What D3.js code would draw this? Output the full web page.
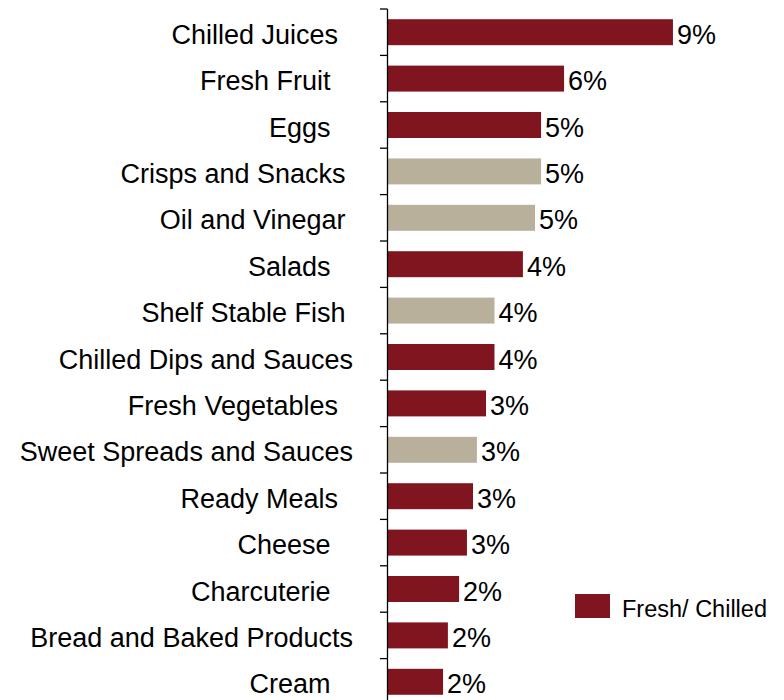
<!DOCTYPE html>
<html>
<head>
<meta charset="utf-8">
<script src="https://cdn.jsdelivr.net/npm/d3@7"></script>
<style>
  html, body { margin: 0; padding: 0; background: #fff; }
  svg { display: block; }
  text { font-family: "Liberation Sans", Arial, sans-serif; fill: #000; }
</style>
</head>
<body>
<div id="chart"></div>
<script>
// categories (trailing spaces as in the source labels)
const categories = [
  'Chilled Juices  ', 'Fresh Fruit   ', 'Eggs   ', 'Crisps and Snacks ', 'Oil and Vinegar ',
  'Salads   ', 'Shelf Stable Fish ', 'Chilled Dips and Sauces', 'Fresh Vegetables  ',
  'Sweet Spreads and Sauces', 'Ready Meals  ', 'Cheese   ', 'Charcuterie   ',
  'Bread and Baked Products', 'Cream   '
];
// share, %
const values = [9.42, 5.82, 5.06, 5.06, 4.86, 4.46, 3.52, 3.52, 3.24, 2.94, 2.81, 2.61, 2.35, 1.98, 1.82];
// F = Fresh/ Chilled, A = ambient
const groups = ['F', 'F', 'F', 'A', 'A', 'F', 'A', 'F', 'F', 'A', 'F', 'F', 'F', 'F', 'F'];
const legendLabels = ['Fresh/ Chilled'];

const W = 784, H = 700;
const color = { F: '#80151F', A: '#B8B09B' };

const svg = d3.select('#chart').append('svg')
  .attr('width', W)
  .attr('height', H);

const rows = categories.map((c, i) => ({ cat: c, v: values[i], g: groups[i] }));

const x = d3.scaleLinear().domain([0, 10]).range([388, 690.5]);
const y = d3.scaleBand()
  .domain(categories)
  .range([9, 705])
  .paddingInner(0.44)
  .paddingOuter(0.22);

// bars
svg.selectAll('.bar')
  .data(rows)
  .enter()
  .append('rect')
  .attr('class', 'bar')
  .attr('x', x(0))
  .attr('y', d => y(d.cat))
  .attr('width', d => x(d.v) - x(0))
  .attr('height', y.bandwidth())
  .attr('fill', d => color[d.g]);

// value labels
svg.selectAll('.val')
  .data(rows)
  .enter()
  .append('text')
  .attr('class', 'val')
  .attr('x', d => x(d.v) + 4)
  .attr('y', d => y(d.cat) + y.bandwidth() / 2)
  .attr('dy', '0.43em')
  .attr('font-size', '27px')
  .text(d => d.v.toFixed(0) + '%');

// category labels
svg.selectAll('.cat')
  .data(rows)
  .enter()
  .append('text')
  .attr('class', 'cat')
  .attr('x', 353)
  .attr('y', d => y(d.cat) + y.bandwidth() / 2)
  .attr('dy', '0.43em')
  .attr('text-anchor', 'end')
  .attr('font-size', '27px')
  .style('white-space', 'pre')
  .text(d => d.cat);

// axis line + ticks between categories
const y0 = y.range()[0];
svg.append('line')
  .attr('x1', 387.5).attr('x2', 387.5)
  .attr('y1', y0).attr('y2', y.range()[1])
  .attr('stroke', '#000')
  .attr('stroke-width', 1.3);

svg.selectAll('.tick')
  .data(d3.range(categories.length + 1))
  .enter()
  .append('line')
  .attr('class', 'tick')
  .attr('x1', 380).attr('x2', 387.5)
  .attr('y1', i => y0 + i * y.step())
  .attr('y2', i => y0 + i * y.step())
  .attr('stroke', '#000')
  .attr('stroke-width', 1.3);

// legend
const lg = svg.append('g').attr('transform', 'translate(575,594)');
lg.append('rect')
  .attr('width', 35)
  .attr('height', 24)
  .attr('fill', color.F);
lg.append('text')
  .attr('x', 47)
  .attr('y', 12)
  .attr('dy', '0.45em')
  .attr('font-size', '23.5px')
  .text(legendLabels[0]);
</script>
</body>
</html>
